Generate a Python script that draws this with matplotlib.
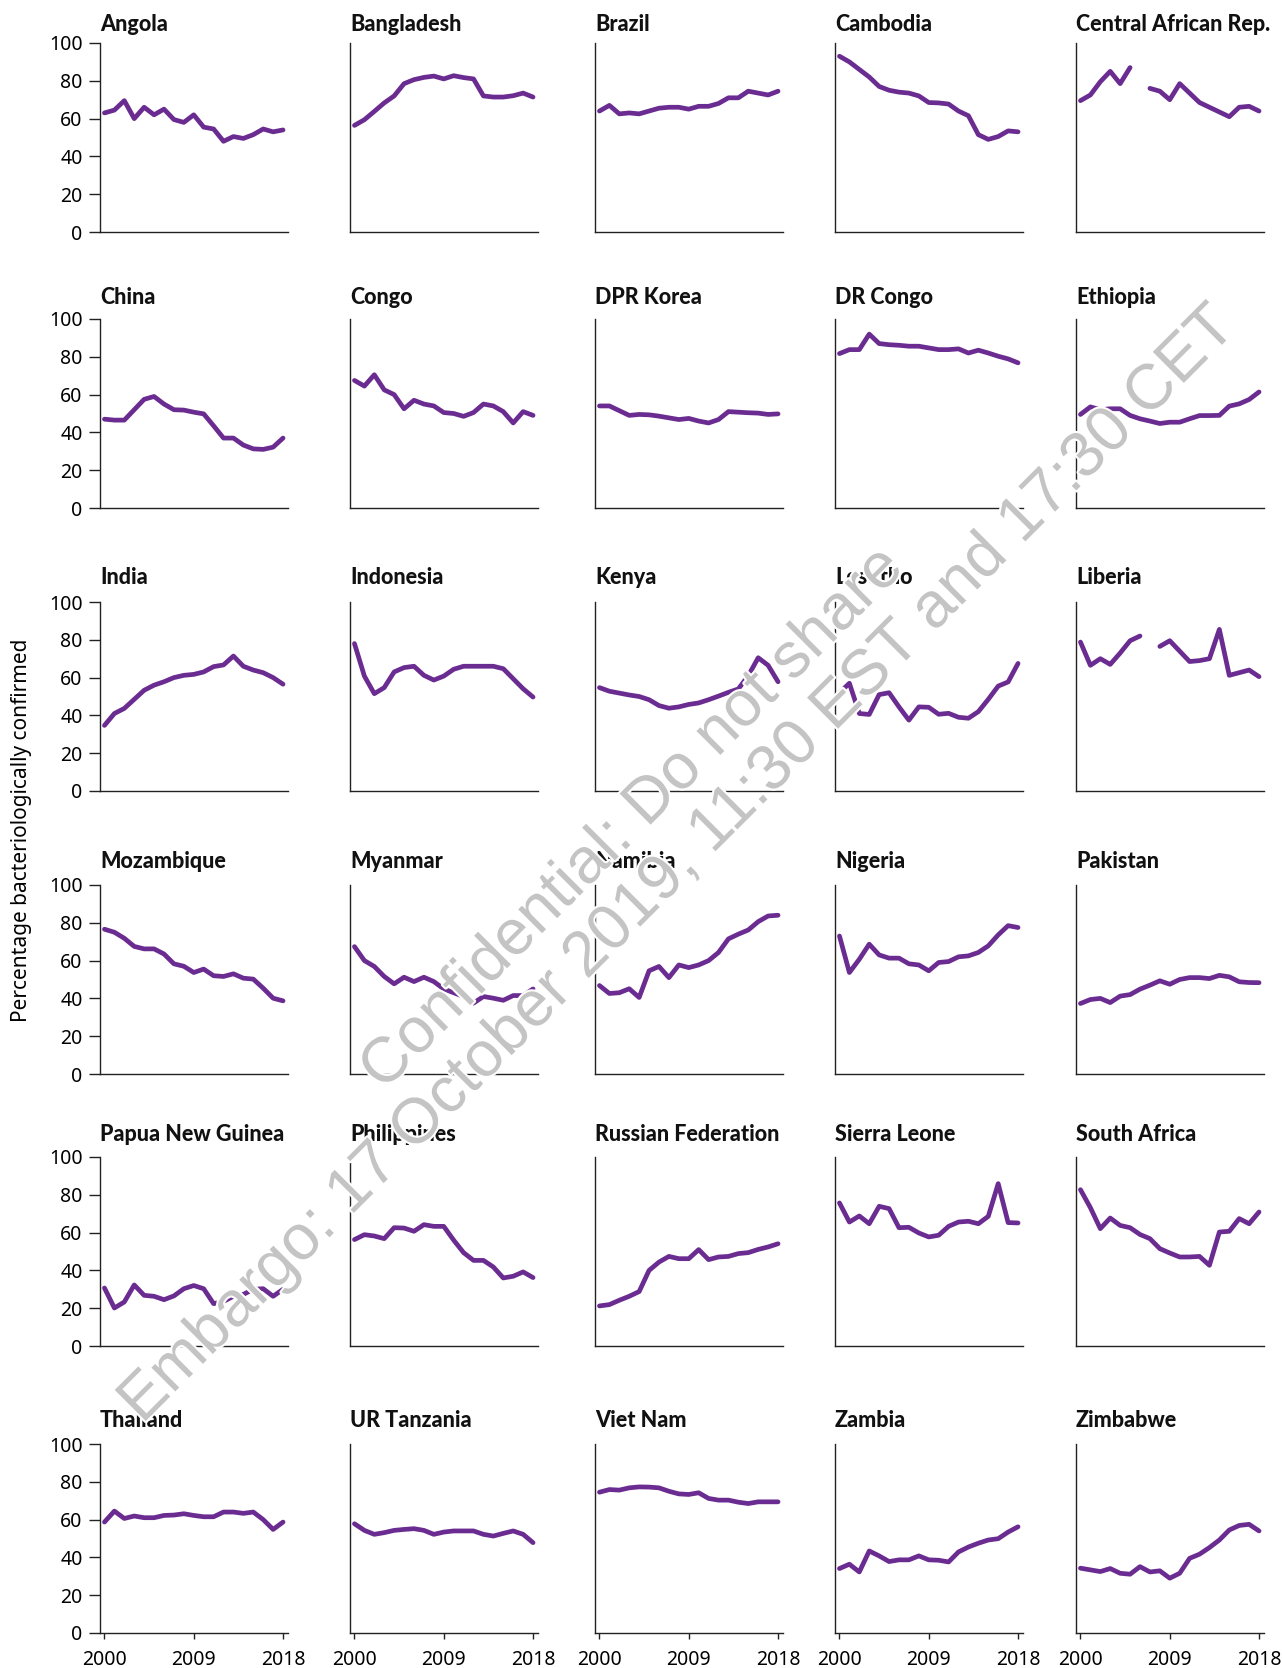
import numpy as np
import matplotlib
matplotlib.use("Agg")
import matplotlib.pyplot as plt
import matplotlib.patheffects as pe

nan = np.nan
years = list(range(2000, 2019))

angola = [63, 64.5, 69.5, 60, 66, 62, 65, 59.5, 58, 62, 55.5, 54.5, 48, 50.5, 49.5, 51.5, 54.5, 53, 54]
bangladesh = [56.4, 59.4, 63.8, 68.3, 72, 78.5, 80.6, 81.8, 82.5, 81, 82.7, 81.7, 81, 72, 71.4, 71.4, 72.1, 73.5, 71.4]
brazil = [64, 67, 62.5, 63, 62.5, 64, 65.5, 66, 66, 65, 66.5, 66.5, 68, 71, 71, 74.5, 73.5, 72.5, 74.5]
cambodia = [93, 90, 86, 82, 77, 75, 74, 73.5, 72, 68.5, 68.3, 67.7, 64, 61.5, 51.5, 49, 50.5, 53.5, 53]
car = [69.5, 72.5, 79.5, 85, 78.5, 87, nan, 76, 74.5, 70, 78.5, 73.5, 68.5, 66, 63.5, 61, 66, 66.5, 64]
china = [47, 46.5, 46.5, 52, 57.5, 59, 55, 52, 51.8, 50.7, 49.8, 43.5, 37, 37, 33.3, 31.3, 31, 32.2, 37]
congo = [67.5, 64.5, 70.5, 62.5, 60, 52.5, 57, 55, 54, 50.5, 50, 48.5, 50.5, 55, 54, 51, 45, 51, 49]
dpr_korea = [54, 54, 51.5, 49, 49.5, 49.3, 48.6, 47.7, 46.8, 47.4, 46, 45, 46.8, 51, 50.7, 50.4, 50.2, 49.5, 49.8]
dr_congo = [81.7, 83.8, 83.8, 92, 87, 86.4, 86.1, 85.6, 85.6, 84.7, 83.8, 83.8, 84.2, 82, 83.5, 82, 80.3, 78.9, 76.8]
ethiopia = [49.5, 53.5, 52, 52.5, 52.5, 49, 47.2, 46, 44.7, 45.4, 45.4, 47.2, 48.9, 48.9, 49, 53.9, 55.1, 57.4, 61.4]
india = [34.7, 41, 43.7, 48.5, 53.3, 56, 57.8, 60, 61.2, 61.7, 63, 65.8, 66.7, 71.4, 66, 64, 62.6, 60, 56.5]
indonesia = [78, 60.8, 51.5, 54.7, 63, 65.3, 66, 61.2, 58.7, 60.8, 64.4, 66, 66, 66, 66, 64.7, 59.4, 54.1, 49.7]
kenya = [54.7, 52.8, 51.8, 50.8, 50, 48.3, 45.2, 43.8, 44.5, 45.8, 46.6, 48.3, 50.2, 52.2, 54, 61, 70.5, 66.5, 57.8]
lesotho = [52, 57, 41, 40.5, 51, 52, 44.5, 37.5, 44.5, 44.3, 40.6, 41.1, 39, 38.5, 42, 48.5, 55.5, 57.7, 67.5]
liberia = [78.8, 66.5, 70, 67, 73, 79.5, 82, nan, 76.5, 79.5, 74, 68.5, 69, 70, 85.5, 61.2, 62.6, 64, 60.5]
mozambique = [76.6, 75, 71.8, 67.5, 66.2, 66.2, 63.5, 58.3, 57, 53.7, 55.5, 52, 51.6, 53, 50.7, 50.2, 45.4, 40.1, 38.7]
myanmar = [67.4, 60, 56.9, 51.6, 47.7, 51.2, 48.9, 51.2, 48.9, 45, 43, 41, 37.5, 41, 40.1, 39, 41.5, 41.5, 45]
namibia = [46.8, 42.6, 43, 45.1, 40.5, 54.6, 56.9, 51, 57.7, 56.3, 57.7, 60, 64.3, 71.5, 74, 76.2, 80.6, 83.6, 84]
nigeria = [73, 53.7, 60.7, 68.7, 63, 61.3, 61.3, 58.3, 57.7, 54.6, 59, 59.5, 62, 62.5, 64.3, 67.8, 73.6, 78.5, 77.5]
pakistan = [37.3, 39.4, 40, 37.8, 41.2, 42, 44.9, 47, 49.3, 47.5, 50, 51, 51, 50.5, 52.2, 51.4, 48.8, 48.4, 48.3]
png = [30.7, 20.1, 23.3, 32.3, 26.8, 26.3, 24.5, 26.5, 30.3, 32, 30.3, 22.4, 23.6, 26.3, 27.3, 30, 30.3, 26.3, 30]
philippines = [56.3, 58.9, 58.2, 56.8, 62.6, 62.4, 60.7, 64.2, 63.3, 63.3, 56, 49.4, 45.3, 45.3, 41.8, 36, 36.9, 39.2, 36.2]
russia = [21.2, 21.9, 24.2, 26.3, 28.8, 40, 44.4, 47.4, 46.2, 46.2, 51, 45.7, 47.1, 47.4, 48.9, 49.4, 51.1, 52.4, 54.1]
sierra_leone = [75.7, 65.6, 68.8, 64.7, 73.9, 72.7, 62.6, 62.8, 59.8, 57.7, 58.6, 63.3, 65.6, 66, 64.7, 68.6, 85.9, 65.3, 65.1]
south_africa = [82.7, 73.2, 62.1, 67.7, 63.8, 62.6, 59, 56.8, 51.5, 49.2, 47.1, 47.1, 47.4, 42.7, 60.3, 60.7, 67.4, 64.7, 70.9]
thailand = [58.7, 64.5, 60.6, 61.9, 61, 61, 62.2, 62.4, 63.1, 62.2, 61.5, 61.5, 64, 64, 63.3, 64, 60, 54.8, 58.7]
tanzania = [57.8, 54.3, 52.2, 53.1, 54.3, 54.8, 55.2, 54.3, 52.2, 53.4, 54, 54, 54, 52.2, 51.3, 52.7, 54, 52.2, 47.8]
viet_nam = [74.5, 75.9, 75.6, 76.8, 77.3, 77.2, 76.8, 75, 73.6, 73.3, 74.2, 71.2, 70.3, 70.3, 69.2, 68.5, 69.4, 69.4, 69.4]
zambia = [34.1, 36.4, 32.3, 43.4, 40.8, 37.8, 38.7, 38.7, 40.8, 38.7, 38.5, 37.6, 42.9, 45.5, 47.5, 49.2, 49.9, 53.4, 56.2]
zimbabwe = [34.3, 33.4, 32.5, 34.1, 31.6, 31.1, 35.1, 32.3, 32.9, 29, 31.6, 39.5, 41.7, 45.2, 49.2, 54.5, 56.9, 57.5, 54]

countries = ["Angola", "Bangladesh", "Brazil", "Cambodia", "Central African Rep.",
             "China", "Congo", "DPR Korea", "DR Congo", "Ethiopia",
             "India", "Indonesia", "Kenya", "Lesotho", "Liberia",
             "Mozambique", "Myanmar", "Namibia", "Nigeria", "Pakistan",
             "Papua New Guinea", "Philippines", "Russian Federation", "Sierra Leone", "South Africa",
             "Thailand", "UR Tanzania", "Viet Nam", "Zambia", "Zimbabwe"]
series = [angola, bangladesh, brazil, cambodia, car,
          china, congo, dpr_korea, dr_congo, ethiopia,
          india, indonesia, kenya, lesotho, liberia,
          mozambique, myanmar, namibia, nigeria, pakistan,
          png, philippines, russia, sierra_leone, south_africa,
          thailand, tanzania, viet_nam, zambia, zimbabwe]

y_ticks = [0, 20, 40, 60, 80, 100]
x_ticks = [2000, 2009, 2018]

purple = "#6b2c91"
W, H = 1282, 1668
fig = plt.figure(figsize=(W / 100, H / 100), dpi=100)

# layout in pixels
col_left = [100, 350, 595, 835, 1076]
row_top = [43, 319, 602, 885, 1157, 1444]
ax_w, ax_h = 188, 189
title_gap = [12, 15, 18, 17, 16, 17]

tick_font = ["Noto Sans", "DejaVu Sans"]
title_font = ["Lato", "DejaVu Sans"]

for i, (name, vals) in enumerate(zip(countries, series)):
    r, c = divmod(i, 5)
    ax = fig.add_axes([col_left[c] / W, 1 - (row_top[r] + ax_h) / H, ax_w / W, ax_h / H])
    ax.plot(years, vals, color=purple, lw=3.4, solid_joinstyle="round",
            solid_capstyle="round", clip_on=False)
    ax.set_xlim(1999.55, 2018.5)
    ax.set_ylim(0, 100)
    for s in ["top", "right"]:
        ax.spines[s].set_visible(False)
    for s in ["left", "bottom"]:
        ax.spines[s].set_color("#222222")
        ax.spines[s].set_linewidth(1.0)

    if c == 0:
        ax.set_yticks(y_ticks)
        ax.tick_params(axis="y", length=8, width=1.0, color="#222222", pad=4.5,
                       labelsize=14)
        for lab in ax.get_yticklabels():
            lab.set_family(tick_font)
    else:
        ax.set_yticks([])

    if r == 5:
        ax.set_xticks(x_ticks)
        ax.set_xticklabels([str(x) for x in x_ticks])
        ax.tick_params(axis="x", length=4, width=1.0, color="#222222", pad=8,
                       labelsize=14)
        for lab in ax.get_xticklabels():
            lab.set_family(tick_font)
    else:
        ax.set_xticks([])

    ax.text(0, 1 + title_gap[r] / ax_h, name, transform=ax.transAxes,
            ha="left", va="baseline", fontsize=15.5, fontweight="black",
            family=title_font, color="#111111")

fig.text(22 / W, 1 - 830 / H, "Percentage bacteriologically confirmed",
         rotation=90, ha="center", va="center", fontsize=15, family=tick_font)

fig.text(655 / W, 1 - 842 / H,
         "Confidential: Do not share\nEmbargo: 17 October 2019, 11:30 EST and 17:30 CET",
         rotation=45, ha="center", va="center", multialignment="center",
         fontsize=46, color="#c4c4c4", family=["Liberation Sans", "DejaVu Sans"],
         linespacing=1.1, zorder=10,
         path_effects=[pe.withStroke(linewidth=3, foreground="white")])

fig.savefig("out.png", dpi=100)
